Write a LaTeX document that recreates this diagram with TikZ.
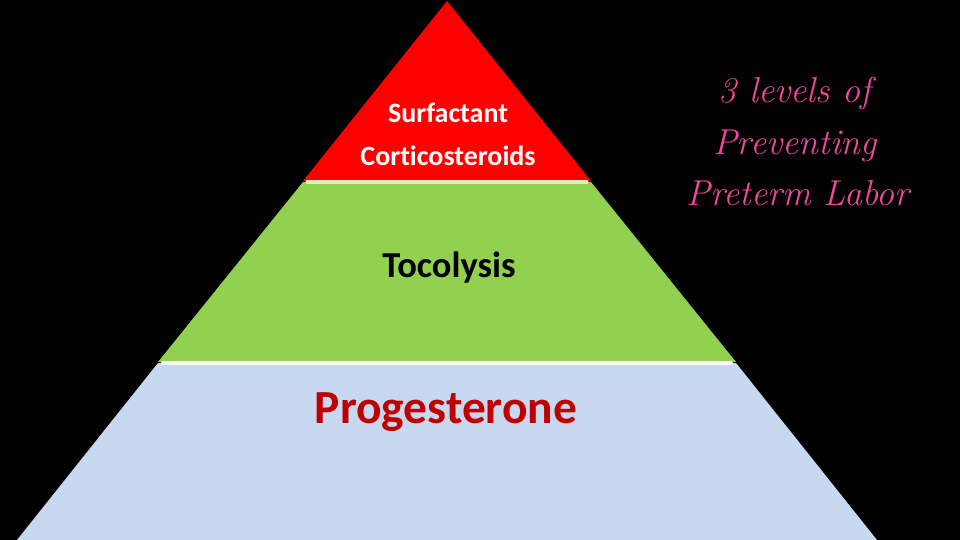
\documentclass[tikz,border=0pt]{standalone}
\usepackage{fontspec}
\setsansfont{Carlito}[Ligatures=NoCommon]
\definecolor{topred}{RGB}{255,0,0}
\definecolor{midgreen}{RGB}{146,208,80}
\definecolor{baseblue}{RGB}{198,217,241}
\definecolor{darkred}{RGB}{192,0,0}
\definecolor{pinktext}{RGB}{236,72,158}
\definecolor{palesep}{RGB}{222,240,190}
\tikzset{
  lbl/.style={anchor=base, inner sep=0pt, font=\sffamily\bfseries},
  side/.style={anchor=base, inner sep=0pt, text=pinktext, font=\fontsize{36}{42}\selectfont\itshape}
}
\begin{document}
\begin{tikzpicture}[x=1pt,y=-1pt]
\useasboundingbox (0,0) rectangle (960,540);
\fill[black] (0,0) rectangle (960,540);
% levels
\fill[baseblue] (158,363) -- (736,363) -- (881,545) -- (13,545) -- cycle;
\fill[midgreen] (303,182) -- (591,182) -- (736,362) -- (158,362) -- cycle;
\fill[topred] (447,1) -- (591,181) -- (303,181) -- cycle;
% separators
\draw[palesep, line width=3pt, line cap=round] (307,182) -- (587,182);
\draw[white, line width=4pt, line cap=round] (163,363) -- (731,363);
% labels
\node[lbl, text=white, font=\sffamily\bfseries\fontsize{28}{32}\selectfont] (surf) at (448,123) {Surfactant};
\node[lbl, text=white, font=\sffamily\bfseries\fontsize{28}{32}\selectfont] (cort) at (448,165) {Corticosteroids};
\node[lbl, text=black, font=\sffamily\bfseries\fontsize{36.5}{42}\selectfont] (toco) at (449,277) {Tocolysis};
\node[lbl, text=darkred, font=\sffamily\bfseries\fontsize{47.5}{54}\selectfont] (prog) at (446,423) {Progesterone};
% side text
\node[side] (l1) at (795,103) {3 levels of};
\node[side] (l2) at (795,155) {Preventing};
\node[side] (l3) at (798,205) {Preterm Labor};
\end{tikzpicture}
\end{document}
